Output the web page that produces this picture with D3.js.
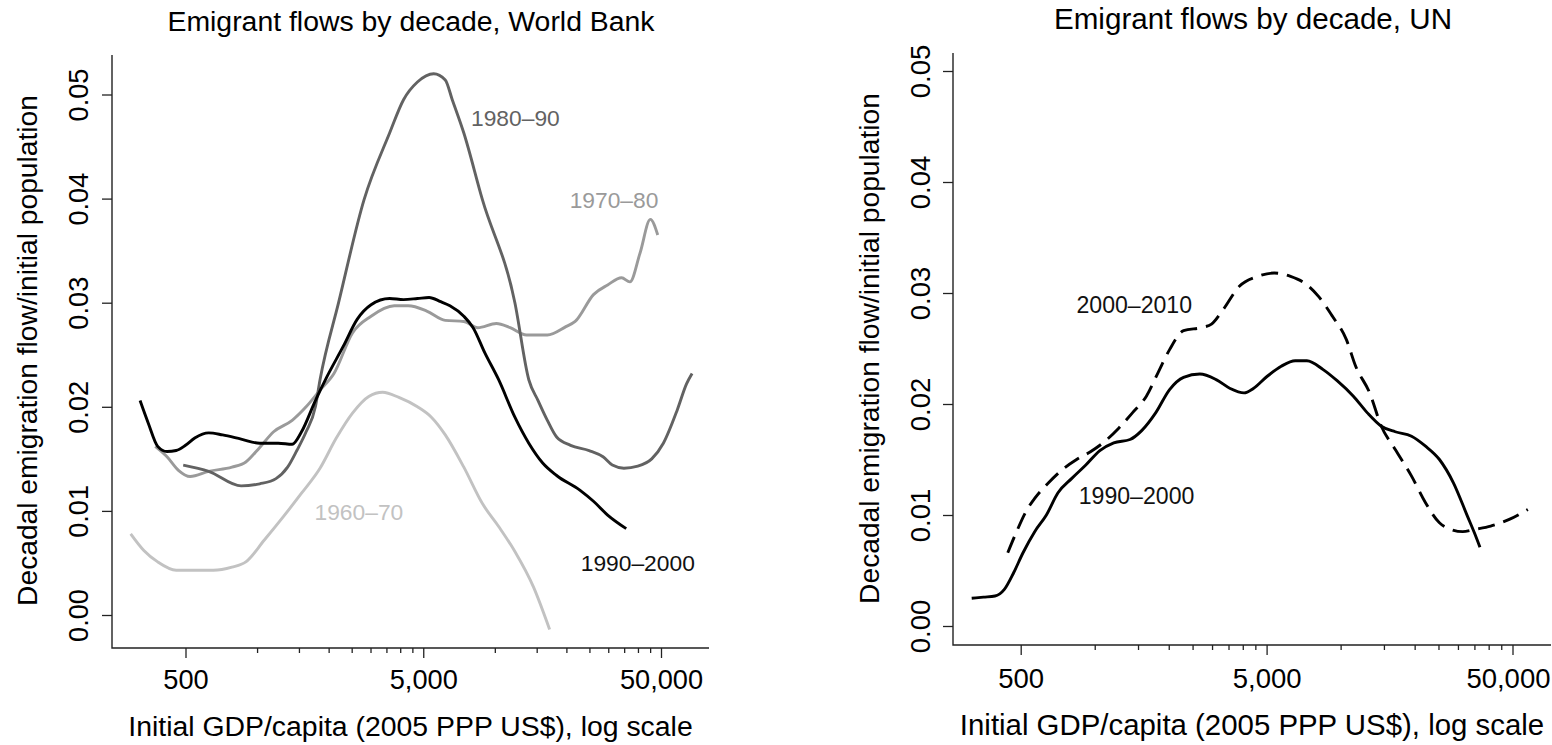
<!DOCTYPE html>
<html>
<head>
<meta charset="utf-8">
<script src="https://cdn.jsdelivr.net/npm/d3@7"></script>
<style>
  html, body { margin: 0; padding: 0; background: #fff; }
  svg { display: block; }
</style>
</head>
<body>
<svg id="chart" width="1552" height="745"></svg>
<script>
// ---- axis ticks -------------------------------------------------------
const xTickValues = [500, 5000, 50000];
const xTickLabels = ["500", "5,000", "50,000"];
const yTickValues = [0, 0.01, 0.02, 0.03, 0.04, 0.05];
const yTickLabels = ["0.00", "0.01", "0.02", "0.03", "0.04", "0.05"];

// ---- World Bank series: initial GDP/capita vs decadal emigration rate --
const wb1960Gdp  = [294, 334, 382, 457, 547, 655, 784, 897, 1073, 1285, 1538, 1840, 2154, 2520, 2950, 3376, 3950, 4726, 5409, 6189, 7407, 8867, 10378, 12145, 14534, 17006];
const wb1960Rate = [0.0078, 0.0062, 0.0051, 0.0043, 0.0043, 0.0043, 0.0046, 0.0051, 0.0072, 0.0094, 0.0117, 0.0141, 0.0170, 0.0194, 0.0210, 0.0214, 0.0209, 0.0200, 0.0190, 0.0173, 0.0142, 0.0107, 0.0085, 0.0061, 0.0027, -0.0014];

const wb1970Gdp  = [373, 418, 467, 523, 626, 784, 897, 1026, 1174, 1405, 1608, 1840, 2106, 2520, 3017, 3776, 4322, 5171, 6189, 7407, 8479, 10146, 11612, 13587, 16634, 19907, 21777, 26062, 29822, 34130, 37009, 40851, 45092, 48444];
const wb1970Rate = [0.0162, 0.0152, 0.0139, 0.0133, 0.0138, 0.0142, 0.0147, 0.0161, 0.0176, 0.0187, 0.0200, 0.0216, 0.0232, 0.0271, 0.0287, 0.0297, 0.0297, 0.0292, 0.0283, 0.0282, 0.0276, 0.0280, 0.0276, 0.0269, 0.0269, 0.0277, 0.0282, 0.0308, 0.0317, 0.0324, 0.0320, 0.0348, 0.0380, 0.0365];

const wb1980Gdp  = [489, 626, 857, 1026, 1201, 1344, 1470, 1608, 1759, 1840, 2202, 2819, 3610, 4131, 4726, 5533, 6189, 6622, 7407, 8867, 12145, 13897, 15202, 16634, 18197, 20820, 24929, 28516, 31200, 34905, 39939, 45709, 51154, 58527, 64020, 67560];
const wb1980Rate = [0.0144, 0.0138, 0.0124, 0.0126, 0.0131, 0.0142, 0.0158, 0.0176, 0.0200, 0.0226, 0.0300, 0.0399, 0.0463, 0.0495, 0.0512, 0.0520, 0.0514, 0.0495, 0.0463, 0.0399, 0.0300, 0.0226, 0.0206, 0.0187, 0.0171, 0.0163, 0.0158, 0.0152, 0.0144, 0.0141, 0.0143, 0.0150, 0.0165, 0.0197, 0.0222, 0.0232];

const wb1990Gdp  = [322, 349, 382, 418, 457, 500, 547, 626, 716, 857, 1026, 1228, 1405, 1538, 1759, 1968, 2303, 2636, 3017, 3610, 4131, 4726, 5289, 5917, 6474, 7407, 8106, 9069, 10378, 12145, 13897, 15897, 18197, 22777, 26067, 29822, 35700];
const wb1990Rate = [0.0206, 0.0184, 0.0162, 0.0157, 0.0158, 0.0163, 0.0170, 0.0175, 0.0173, 0.0169, 0.0165, 0.0165, 0.0164, 0.0176, 0.0206, 0.0229, 0.0258, 0.0284, 0.0298, 0.0304, 0.0303, 0.0304, 0.0305, 0.0301, 0.0297, 0.0287, 0.0276, 0.0252, 0.0226, 0.0190, 0.0165, 0.0146, 0.0134, 0.0120, 0.0109, 0.0096, 0.0083];

// ---- UN series --------------------------------------------------------
const un1990Gdp  = [316, 353, 393, 429, 468, 511, 570, 636, 709, 807, 920, 1049, 1195, 1392, 1552, 1769, 2016, 2297, 2676, 3117, 3553, 4048, 4417, 5031, 5735, 6537, 7289, 8491, 9676, 11268, 12847, 14638, 16680, 19429, 22144, 25227, 28753, 32780, 34992, 36863];
const un1990Rate = [0.0025, 0.0026, 0.0027, 0.0033, 0.0048, 0.0066, 0.0085, 0.0100, 0.0120, 0.0133, 0.0145, 0.0158, 0.0165, 0.0168, 0.0176, 0.0192, 0.0213, 0.0224, 0.0227, 0.0222, 0.0214, 0.0210, 0.0214, 0.0225, 0.0234, 0.0239, 0.0239, 0.0231, 0.0221, 0.0207, 0.0192, 0.0180, 0.0175, 0.0171, 0.0162, 0.0150, 0.0129, 0.0099, 0.0084, 0.0071];

const un2000Gdp  = [443, 479, 522, 570, 649, 740, 844, 961, 1095, 1249, 1423, 1622, 1808, 2016, 2297, 2735, 2985, 3328, 3875, 4613, 5373, 6257, 7132, 8128, 9262, 10556, 11514, 13128, 14638, 16680, 19429, 22144, 25227, 28128, 31370, 34992, 40746, 48502, 57730];
const un2000Rate = [0.0066, 0.0084, 0.0102, 0.0115, 0.0129, 0.0141, 0.0150, 0.0157, 0.0166, 0.0178, 0.0192, 0.0207, 0.0228, 0.0249, 0.0266, 0.0269, 0.0272, 0.0285, 0.0306, 0.0315, 0.0318, 0.0315, 0.0309, 0.0297, 0.0279, 0.0258, 0.0234, 0.0210, 0.0180, 0.0159, 0.0135, 0.0111, 0.0093, 0.0087, 0.0085, 0.0087, 0.0090, 0.0096, 0.0105];

// ---- series labels (text, anchor point in data units) ------------------
const wbLabelText = ["1980\u201390", "1970\u201380", "1960\u201370", "1990\u20132000"];
const wbLabelGdp  = [7940, 20640, 1744, 22980];
const wbLabelRate = [0.0470, 0.0391, 0.0091, 0.0042];
const unLabelText = ["2000\u20132010", "1990\u20132000"];
const unLabelGdp  = [843, 861];
const unLabelRate = [0.0282, 0.0110];

const zip = (xs, ys) => xs.map((v, i) => [v, ys[i]]);
const FONT = "'Liberation Sans', Arial, Helvetica, sans-serif";
const CANVAS_W = 1552;

// ---- panel layout -------------------------------------------------------
const panels = [
  {
    title: "Emigrant flows by decade, World Bank",
    xRange: [185.5, 661], yRange: [615, 94.5],
    frameLeft: 112, frameRight: 709, frameTop: 55, frameBottom: 648,
    titleX: 411, titleY: 30.5, titleSize: 28.4,
    xLabelY: 689, xTitleY: 736, yLabelX: 88, yTitleX: 37, yTitleY: 350.5,
    axisTitleSize: 28.4, tickSize: 27.2, labelSize: 22.8,
    series: [
      { data: zip(wb1960Gdp, wb1960Rate), color: "#c2c2c2", dash: null },
      { data: zip(wb1970Gdp, wb1970Rate), color: "#9a9a9a", dash: null },
      { data: zip(wb1980Gdp, wb1980Rate), color: "#626262", dash: null },
      { data: zip(wb1990Gdp, wb1990Rate), color: "#000000", dash: null }
    ],
    labels: wbLabelText.map((t, i) => ({ text: t, gdp: wbLabelGdp[i], rate: wbLabelRate[i],
      color: ["#626262", "#9a9a9a", "#c2c2c2", "#111111"][i] }))
  },
  {
    title: "Emigrant flows by decade, UN",
    xRange: [1020.7, 1512.5], yRange: [626, 71],
    frameLeft: 953, frameRight: 1551, frameTop: 53, frameBottom: 645,
    titleX: 1253, titleY: 29, titleSize: 29.6,
    xLabelY: 688, xTitleY: 735, yLabelX: 930, yTitleX: 879, yTitleY: 348.5,
    axisTitleSize: 29.4, tickSize: 27.5, labelSize: 23.1,
    series: [
      { data: zip(un2000Gdp, un2000Rate), color: "#000000", dash: "17,9" },
      { data: zip(un1990Gdp, un1990Rate), color: "#000000", dash: null }
    ],
    labels: unLabelText.map((t, i) => ({ text: t, gdp: unLabelGdp[i], rate: unLabelRate[i], color: "#111111" }))
  }
];

const svg = d3.select("#chart");
svg.append("rect").attr("width", CANVAS_W).attr("height", 745).attr("fill", "#fff");

panels.forEach(p => {
  const x = d3.scaleLog().domain([500, 50000]).range(p.xRange);
  const y = d3.scaleLinear().domain([0, 0.05]).range(p.yRange);
  const g = svg.append("g");

  // L-shaped frame
  g.append("path")
    .attr("d", `M${p.frameLeft},${p.frameTop}V${p.frameBottom}H${p.frameRight}`)
    .attr("fill", "none").attr("stroke", "#222").attr("stroke-width", 1.4);

  // x axis: major ticks with labels, minor ticks at 2..9 times each decade start
  const minorTicks = xTickValues.slice(0, -1).flatMap(m => d3.range(2, 10).map(k => m * k));
  const xMinor = g.append("g")
    .attr("transform", `translate(0,${p.frameBottom})`)
    .call(d3.axisBottom(x).tickValues(minorTicks).tickFormat("").tickSize(5).tickSizeOuter(0));
  xMinor.select(".domain").remove();

  const xMajor = g.append("g")
    .attr("transform", `translate(0,${p.frameBottom})`)
    .call(d3.axisBottom(x).tickValues(xTickValues)
      .tickFormat((d, i) => xTickLabels[i]).tickSize(10).tickSizeOuter(0))
    .attr("font-family", FONT).attr("font-size", p.tickSize);
  xMajor.select(".domain").remove();
  xMajor.selectAll(".tick text")
    .attr("y", p.xLabelY - p.frameBottom).attr("dy", 0).attr("fill", "#000")
    .each(function (d) {
      // keep the outermost label inside the canvas
      const half = this.getComputedTextLength() / 2;
      const overflow = x(d) + half - (CANVAS_W - 2);
      if (overflow > 0) d3.select(this).attr("x", -overflow);
    });

  [xMinor, xMajor].forEach(a => a.selectAll(".tick line").attr("stroke", "#222").attr("stroke-width", 1.3));

  // y axis with labels set parallel to the axis
  const yAxis = g.append("g")
    .attr("transform", `translate(${p.frameLeft},0)`)
    .call(d3.axisLeft(y).tickValues(yTickValues)
      .tickFormat((d, i) => yTickLabels[i]).tickSize(10).tickSizeOuter(0))
    .attr("font-family", FONT).attr("font-size", p.tickSize);
  yAxis.select(".domain").remove();
  yAxis.selectAll(".tick line").attr("stroke", "#222").attr("stroke-width", 1.3);
  yAxis.selectAll(".tick text")
    .attr("x", null).attr("dy", null)
    .attr("text-anchor", "middle").attr("fill", "#000")
    .attr("transform", `translate(${p.yLabelX - p.frameLeft},0) rotate(-90)`);

  // titles
  g.append("text")
    .attr("x", p.titleX).attr("y", p.titleY)
    .attr("text-anchor", "middle").attr("font-family", FONT).attr("font-size", p.titleSize)
    .attr("fill", "#000").text(p.title);

  g.append("text")
    .attr("x", (p.frameLeft + p.frameRight) / 2).attr("y", p.xTitleY)
    .attr("text-anchor", "middle").attr("font-family", FONT).attr("font-size", p.axisTitleSize)
    .attr("fill", "#000").text("Initial GDP/capita (2005 PPP US$), log scale");

  g.append("text")
    .attr("transform", `translate(${p.yTitleX},${p.yTitleY}) rotate(-90)`)
    .attr("text-anchor", "middle").attr("font-family", FONT).attr("font-size", 28.2)
    .attr("fill", "#000").text("Decadal emigration flow/initial population");

  // smoothed curves
  const line = d3.line().x(d => x(d[0])).y(d => y(d[1])).curve(d3.curveMonotoneX);
  g.selectAll("path.series").data(p.series).join("path")
    .attr("class", "series")
    .attr("d", s => line(s.data))
    .attr("fill", "none")
    .attr("stroke", s => s.color)
    .attr("stroke-width", 2.9)
    .attr("stroke-linejoin", "round")
    .attr("stroke-dasharray", s => s.dash);

  // series labels
  g.selectAll("text.series-label").data(p.labels).join("text")
    .attr("class", "series-label")
    .attr("x", d => x(d.gdp)).attr("y", d => y(d.rate))
    .attr("font-family", FONT).attr("font-size", p.labelSize)
    .attr("fill", d => d.color)
    .text(d => d.text);
});
</script>
</body>
</html>
